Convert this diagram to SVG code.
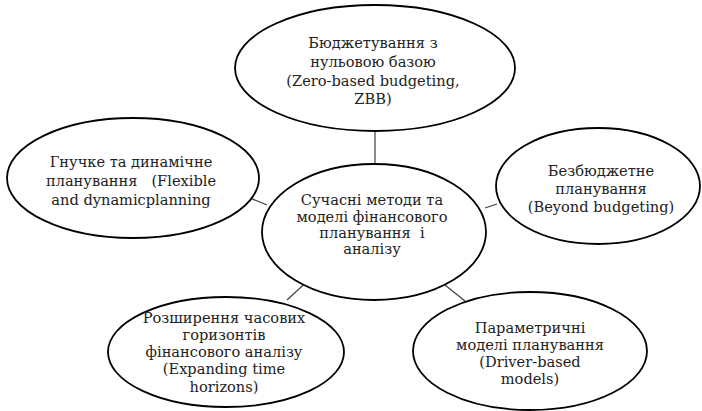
<svg xmlns="http://www.w3.org/2000/svg" width="702" height="411" viewBox="0 0 702 411">
<style>
.n{fill:#fff;stroke:#000;stroke-width:1.8}
.c{stroke:#404040;stroke-width:1.2;fill:none}
text{font-family:'DejaVu Serif','Liberation Serif',serif;font-size:14.6px;fill:#222;text-anchor:middle}
</style>
<rect width="702" height="411" fill="#fff"/>
<g id="connectors">
<line class="c" x1="375" y1="130" x2="375" y2="165"/>
<line class="c" x1="245" y1="196" x2="267" y2="205"/>
<line class="c" x1="485" y1="208" x2="497" y2="204"/>
<line class="c" x1="312" y1="277" x2="287" y2="300"/>
<line class="c" x1="435" y1="277" x2="465" y2="301"/>
</g>
<g id="center">
<ellipse class="n" cx="374" cy="232" rx="112" ry="68"/>
<text x="372" y="205">Сучасні методи та</text>
<text x="372" y="222">моделі фінансового</text>
<text x="372" y="238" xml:space="preserve">планування  і</text>
<text x="372" y="254">аналізу</text>
</g>
<g id="zbb">
<ellipse class="n" cx="375" cy="68" rx="140" ry="63"/>
<text x="373" y="48">Бюджетування з</text>
<text x="373" y="67">нульовою базою</text>
<text x="373" y="86">(Zero-based budgeting,</text>
<text x="373" y="104">ZBB)</text>
</g>
<g id="flexible">
<ellipse class="n" cx="133" cy="178" rx="126" ry="60"/>
<text x="131" y="167">Гнучке та динамічне</text>
<text x="131" y="186" xml:space="preserve">планування   (Flexible</text>
<text x="131" y="205">and dynamicplanning</text>
</g>
<g id="beyond">
<ellipse class="n" cx="598" cy="186" rx="102" ry="58"/>
<text x="601" y="176">Безбюджетне</text>
<text x="601" y="194">планування</text>
<text x="601" y="212">(Beyond budgeting)</text>
</g>
<g id="expanding">
<ellipse class="n" cx="226" cy="352" rx="118" ry="55"/>
<text x="224" y="323">Розширення часових</text>
<text x="224" y="340">горизонтів</text>
<text x="224" y="357">фінансового аналізу</text>
<text x="224" y="374">(Expanding time</text>
<text x="224" y="392">horizons)</text>
</g>
<g id="driver">
<ellipse class="n" cx="530" cy="351" rx="117" ry="59"/>
<text x="530" y="333">Параметричні</text>
<text x="530" y="350">моделі планування</text>
<text x="530" y="367">(Driver-based</text>
<text x="530" y="384">models)</text>
</g>
</svg>
